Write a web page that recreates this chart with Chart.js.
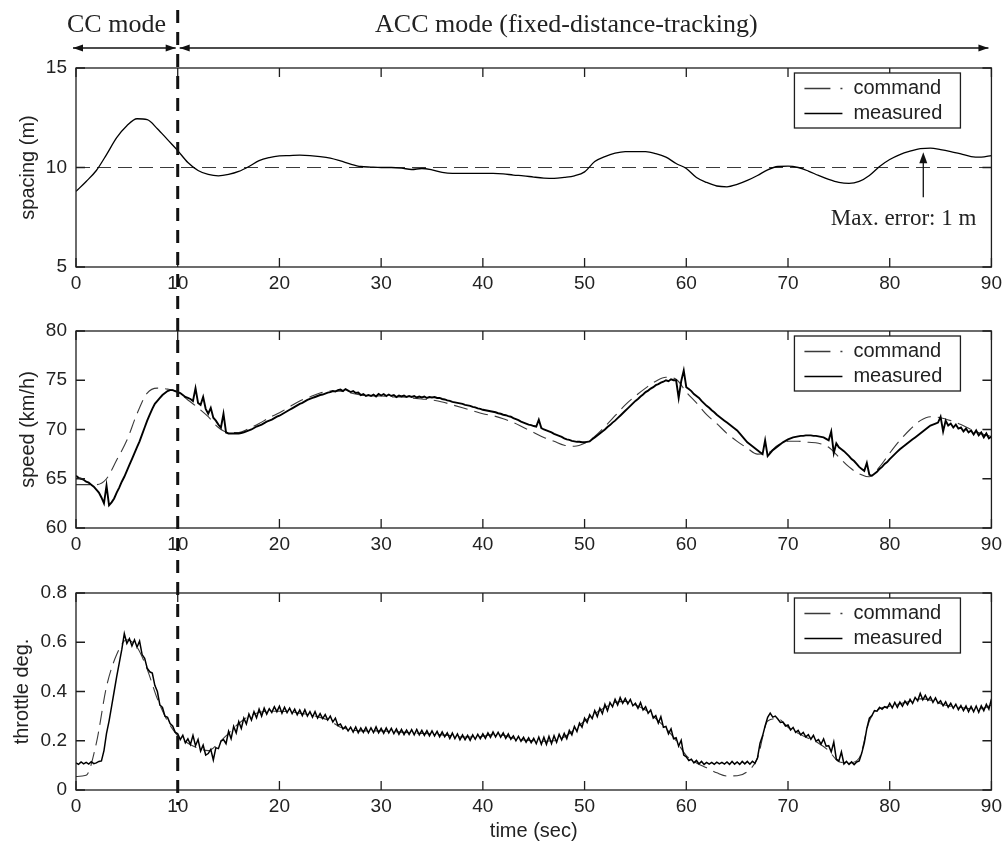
<!DOCTYPE html>
<html>
<head>
<meta charset="utf-8">
<script src="https://cdn.jsdelivr.net/npm/chart.js@4.4.1/dist/chart.umd.min.js"></script>
<style>
  html, body { margin: 0; padding: 0; background: #fff; }
  #wrap { position: relative; width: 1007px; height: 843px; overflow: hidden; background: #fff; }
  #wrap canvas { position: absolute; left: 0; }
</style>
</head>
<body>
<div id="wrap">
  <canvas id="cSpacing" width="1007" height="300" style="top:0px"></canvas>
  <canvas id="cSpeed" width="1007" height="260" style="top:300px"></canvas>
  <canvas id="cThrottle" width="1007" height="283" style="top:560px"></canvas>
</div>
<script>
// ---------------- data ----------------
const seriesNames = ['command', 'measured'];
const timeTicks = [0, 10, 20, 30, 40, 50, 60, 70, 80, 90];
const spacingTicks = [5, 10, 15];
const speedTicks = [60, 65, 70, 75, 80];
const throttleTicks = [0, 0.2, 0.4, 0.6, 0.8];

const modeSwitchTime = 10;              // CC -> ACC switch (s)
const ccLabel = 'CC mode';
const accLabel = 'ACC mode (fixed-distance-tracking)';
const maxErrorLabel = 'Max. error: 1 m';
const maxErrorTime = 83.3;              // where the arrow points (s)

// spacing (m): command is constant, measured sampled every 1 s
const spacingCommandTime = [0, 90];
const spacingCommand = [10, 10];
const spacingMeasured = [
  8.8, 9.3, 9.85, 10.65, 11.5, 12.1, 12.45, 12.4, 11.95, 11.4,
  10.85, 10.25, 9.85, 9.65, 9.58, 9.65, 9.8, 10.05, 10.35, 10.5,
  10.58, 10.6, 10.62, 10.6, 10.55, 10.47, 10.33, 10.17, 10.05, 10.02,
  10.0, 10.0, 9.97, 9.9, 9.95, 9.88, 9.75, 9.7, 9.7, 9.7,
  9.7, 9.7, 9.68, 9.62, 9.58, 9.52, 9.47, 9.45, 9.5, 9.58,
  9.78, 10.3, 10.55, 10.72, 10.8, 10.8, 10.8, 10.7, 10.52, 10.2,
  9.95, 9.5, 9.25, 9.07, 9.03, 9.15, 9.35, 9.6, 9.88, 10.05,
  10.07, 10.0, 9.82, 9.6, 9.4, 9.25, 9.2, 9.3, 9.6, 10.05,
  10.4, 10.65, 10.82, 10.95, 10.97, 10.9, 10.8, 10.68, 10.55, 10.52,
  10.6
];

// speed (km/h): command every 1 s, measured every 0.25 s
const speedCommand = [
  64.4, 64.4, 64.4, 65.0, 66.9, 68.9, 71.6, 73.7, 74.2, 74.1,
  73.8, 73.0, 72.2, 71.3, 70.2, 69.7, 69.7, 70.1, 70.6, 71.2,
  71.7, 72.3, 72.9, 73.3, 73.7, 73.9, 73.9, 73.7, 73.5, 73.4,
  73.4, 73.3, 73.3, 73.2, 73.1, 73.0, 72.8, 72.5, 72.2, 71.9,
  71.6, 71.4, 71.1, 70.7, 70.2, 69.7, 69.2, 68.8, 68.4, 68.3,
  68.6, 69.3, 70.3, 71.4, 72.5, 73.4, 74.2, 74.9, 75.3, 75.1,
  73.8, 72.7, 71.5, 70.6, 69.6, 68.8, 68.1, 67.5, 67.6, 68.4,
  68.8, 68.8, 68.7, 68.6, 68.2, 67.2, 66.2, 65.5, 65.2, 66.2,
  67.6, 68.9, 70.0, 70.9, 71.3, 71.2, 70.9, 70.5, 70.0, 69.6,
  69.3
];
const speedMeasured = [
  65.3, 65.1, 65.0, 64.9, 64.7, 64.6, 64.4, 64.2,
  63.9, 63.6, 63.1, 62.5, 64.3, 62.3, 62.6, 63.0,
  63.6, 64.1, 64.7, 65.2, 65.8, 66.4, 67.0, 67.6,
  68.2, 68.8, 69.5, 70.2, 70.9, 71.5, 72.1, 72.6,
  72.9, 73.2, 73.5, 73.7, 73.9, 74.0, 74.0, 73.9,
  73.8, 73.7, 73.5, 73.3, 73.2, 73.1, 72.9, 74.2,
  72.7, 72.5, 73.3, 72.1, 71.6, 72.2, 71.2, 70.9,
  70.5, 70.2, 71.6, 69.7, 69.6, 69.6, 69.6, 69.6,
  69.6, 69.65, 69.7, 69.8, 69.9, 70.0, 70.15, 70.3,
  70.4, 70.5, 70.65, 70.8, 70.9, 71.0, 71.15, 71.3,
  71.4, 71.55, 71.7, 71.85, 72.0, 72.15, 72.3, 72.45,
  72.6, 72.7, 72.85, 73.0, 73.1, 73.2, 73.3, 73.4,
  73.5, 73.55, 73.65, 73.75, 73.8, 73.9, 73.85, 74.0,
  74.05, 73.9, 74.1, 73.95, 73.8, 73.9, 73.7, 73.75,
  73.5, 73.6, 73.4, 73.5, 73.4, 73.55, 73.35, 73.6,
  73.45, 73.6, 73.4, 73.55, 73.4, 73.5, 73.3, 73.45,
  73.35, 73.45, 73.3, 73.4, 73.3, 73.4, 73.25, 73.35,
  73.25, 73.35, 73.2, 73.3, 73.25, 73.3, 73.2, 73.2,
  73.1, 73.05, 72.95, 72.9, 72.8, 72.75, 72.7, 72.65,
  72.6, 72.5, 72.45, 72.4, 72.3, 72.25, 72.15, 72.1,
  72.0, 71.95, 71.9, 71.85, 71.8, 71.75, 71.65, 71.6,
  71.5, 71.45, 71.35, 71.3, 71.15, 71.05, 70.95, 70.8,
  70.7, 70.6, 70.5, 70.45, 70.35, 70.3, 71.0, 70.15,
  70.0, 69.9, 69.8, 69.7, 69.55, 69.45, 69.35, 69.25,
  69.1, 69.0, 68.95, 68.85, 68.8, 68.75, 68.75, 68.7,
  68.7, 68.75, 68.8, 69.0, 69.2, 69.4, 69.6, 69.8,
  70.0, 70.25, 70.45, 70.7, 70.9, 71.15, 71.4, 71.65,
  71.9, 72.15, 72.4, 72.65, 72.9, 73.1, 73.35, 73.55,
  73.8, 73.95, 74.15, 74.3, 74.5, 74.6, 74.75, 74.85,
  75.0, 74.9, 75.1, 75.0, 75.0, 73.2, 74.9, 76.0,
  74.3, 74.1, 73.9, 73.6, 73.4, 73.2, 72.9, 72.65,
  72.4, 72.2, 71.95, 71.75, 71.5, 71.3, 71.1, 70.9,
  70.7, 70.5, 70.3, 70.1, 69.9, 69.6, 69.3, 69.0,
  68.7, 68.5, 68.3, 68.1, 67.9, 67.7, 67.5, 68.9,
  67.3, 67.6, 67.9, 68.1, 68.3, 68.5, 68.7, 68.85,
  69.0, 69.1, 69.2, 69.25, 69.3, 69.35, 69.35, 69.4,
  69.4, 69.4, 69.35, 69.35, 69.3, 69.25, 69.2, 69.05,
  68.9, 69.8, 67.6, 68.6, 68.2, 68.0, 67.8, 67.55,
  67.3, 67.0, 66.8, 66.5, 66.2, 66.0, 65.8, 66.6,
  65.4, 65.3, 65.5, 65.7, 66.0, 66.2, 66.5, 66.7,
  67.0, 67.25, 67.5, 67.75, 68.0, 68.2, 68.4, 68.6,
  68.8, 69.0, 69.2, 69.4, 69.6, 69.8, 70.0, 70.2,
  70.4, 70.5, 70.6, 70.7, 71.3, 69.8, 70.9, 70.4,
  70.6, 70.2, 70.5, 70.1, 70.2, 69.8, 70.1, 69.7,
  69.9, 69.5, 69.9, 69.4, 69.7, 69.2, 69.6, 69.1,
  69.3
];

// throttle: command every 1 s, measured every 0.25 s
const throttleCommand = [
  0.055, 0.06, 0.19, 0.42, 0.55, 0.61, 0.58, 0.49, 0.37, 0.28,
  0.22, 0.19, 0.17, 0.16, 0.19, 0.23, 0.27, 0.3, 0.315, 0.32,
  0.32, 0.318, 0.312, 0.305, 0.295, 0.28, 0.255, 0.245, 0.24, 0.24,
  0.24, 0.238, 0.235, 0.232, 0.23, 0.228, 0.224, 0.22, 0.215, 0.215,
  0.218, 0.225, 0.222, 0.21, 0.203, 0.2, 0.198, 0.2, 0.215, 0.245,
  0.28, 0.31, 0.335, 0.355, 0.36, 0.345, 0.325, 0.29, 0.25, 0.2,
  0.14, 0.11, 0.09, 0.07, 0.057, 0.058, 0.075, 0.13, 0.28, 0.29,
  0.255, 0.23, 0.21, 0.19, 0.16, 0.115, 0.11, 0.13, 0.28, 0.33,
  0.34, 0.35, 0.36, 0.37, 0.365, 0.35, 0.34, 0.335, 0.33, 0.33,
  0.345
];
const throttleMeasured = [
  0.110, 0.104, 0.114, 0.106, 0.112, 0.105, 0.115, 0.107,
  0.110, 0.116, 0.118, 0.160, 0.230, 0.280, 0.340, 0.400,
  0.460, 0.515, 0.570, 0.635, 0.595, 0.615, 0.585, 0.610,
  0.580, 0.605, 0.550, 0.535, 0.495, 0.480, 0.475, 0.425,
  0.400, 0.345, 0.335, 0.300, 0.295, 0.270, 0.260, 0.235,
  0.228, 0.205, 0.222, 0.192, 0.208, 0.185, 0.222, 0.180,
  0.205, 0.158, 0.182, 0.142, 0.148, 0.165, 0.122, 0.172,
  0.168, 0.198, 0.205, 0.188, 0.238, 0.208, 0.258, 0.232,
  0.278, 0.250, 0.292, 0.268, 0.308, 0.284, 0.318, 0.293,
  0.328, 0.300, 0.332, 0.308, 0.330, 0.315, 0.338, 0.318,
  0.340, 0.312, 0.336, 0.314, 0.332, 0.310, 0.328, 0.305,
  0.325, 0.302, 0.326, 0.300, 0.318, 0.296, 0.318, 0.292,
  0.310, 0.290, 0.306, 0.284, 0.300, 0.276, 0.292, 0.262,
  0.268, 0.248, 0.258, 0.240, 0.255, 0.235, 0.256, 0.232,
  0.252, 0.234, 0.254, 0.232, 0.252, 0.233, 0.256, 0.232,
  0.250, 0.230, 0.252, 0.232, 0.250, 0.229, 0.248, 0.226,
  0.246, 0.225, 0.244, 0.226, 0.245, 0.224, 0.246, 0.224,
  0.242, 0.222, 0.241, 0.220, 0.240, 0.220, 0.238, 0.216,
  0.236, 0.216, 0.232, 0.209, 0.231, 0.209, 0.228, 0.204,
  0.224, 0.204, 0.222, 0.202, 0.224, 0.206, 0.226, 0.208,
  0.228, 0.210, 0.232, 0.214, 0.236, 0.216, 0.234, 0.214,
  0.232, 0.210, 0.228, 0.206, 0.220, 0.200, 0.218, 0.198,
  0.214, 0.194, 0.212, 0.192, 0.210, 0.188, 0.215, 0.186,
  0.214, 0.185, 0.218, 0.188, 0.220, 0.194, 0.226, 0.204,
  0.230, 0.208, 0.242, 0.224, 0.258, 0.238, 0.272, 0.255,
  0.292, 0.274, 0.306, 0.290, 0.322, 0.298, 0.332, 0.310,
  0.348, 0.322, 0.355, 0.338, 0.368, 0.345, 0.375, 0.352,
  0.372, 0.350, 0.368, 0.342, 0.352, 0.332, 0.355, 0.325,
  0.338, 0.312, 0.325, 0.292, 0.302, 0.272, 0.298, 0.255,
  0.258, 0.228, 0.248, 0.208, 0.212, 0.178, 0.202, 0.142,
  0.135, 0.120, 0.125, 0.110, 0.120, 0.106, 0.116, 0.104,
  0.112, 0.105, 0.112, 0.104, 0.113, 0.106, 0.112, 0.105,
  0.114, 0.104, 0.116, 0.105, 0.114, 0.104, 0.116, 0.106,
  0.116, 0.105, 0.117, 0.108, 0.130, 0.190, 0.220, 0.260,
  0.295, 0.312, 0.296, 0.300, 0.288, 0.274, 0.276, 0.260,
  0.264, 0.244, 0.254, 0.234, 0.242, 0.224, 0.234, 0.216,
  0.225, 0.206, 0.222, 0.198, 0.205, 0.186, 0.207, 0.178,
  0.180, 0.155, 0.195, 0.125, 0.118, 0.155, 0.106, 0.116,
  0.104, 0.114, 0.103, 0.114, 0.118, 0.150, 0.190, 0.250,
  0.292, 0.302, 0.322, 0.320, 0.336, 0.328, 0.338, 0.333,
  0.352, 0.334, 0.356, 0.336, 0.357, 0.340, 0.361, 0.346,
  0.368, 0.352, 0.376, 0.362, 0.392, 0.366, 0.384, 0.364,
  0.378, 0.356, 0.374, 0.352, 0.362, 0.342, 0.358, 0.336,
  0.352, 0.332, 0.348, 0.326, 0.343, 0.322, 0.341, 0.318,
  0.339, 0.318, 0.341, 0.316, 0.342, 0.322, 0.348, 0.328,
  0.370
];

// ---------------- helpers ----------------
const sampleTimes = (n, step) => Array.from({ length: n }, (_, i) => +(i * step).toFixed(2));
const toPoints = (times, values) => values.map((v, i) => ({ x: times[i], y: v }));

const SANS = '"Liberation Sans", Arial, Helvetica, sans-serif';
const SERIF = '"Liberation Serif", "Times New Roman", serif';
const INK = '#1e1e1e';
const TICK_LEN = 9;

Chart.defaults.font.family = SANS;
Chart.defaults.color = '#222';

// frame round the plot area with inward tick marks on all four sides
const frameTicks = {
  id: 'frameTicks',
  afterDatasetsDraw(chart) {
    const { ctx, chartArea: a } = chart;
    const xs = chart.scales.x, ys = chart.scales.y;
    ctx.save();
    ctx.strokeStyle = INK;
    ctx.lineWidth = 1.3;
    ctx.beginPath();
    xs.ticks.forEach(t => {
      const p = xs.getPixelForValue(t.value);
      ctx.moveTo(p, a.bottom); ctx.lineTo(p, a.bottom - TICK_LEN);
      ctx.moveTo(p, a.top); ctx.lineTo(p, a.top + TICK_LEN);
    });
    ys.ticks.forEach(t => {
      const p = ys.getPixelForValue(t.value);
      ctx.moveTo(a.left, p); ctx.lineTo(a.left + TICK_LEN, p);
      ctx.moveTo(a.right, p); ctx.lineTo(a.right - TICK_LEN, p);
    });
    ctx.stroke();
    ctx.strokeRect(a.left, a.top, a.right - a.left, a.bottom - a.top);
    ctx.restore();
  }
};

// boxed legend in the upper-right corner of each panel
const boxLegend = {
  id: 'boxLegend',
  afterDatasetsDraw(chart) {
    const { ctx, chartArea: a } = chart;
    const left = a.right - 197, top = a.top + 5, w = 166, h = 55;
    ctx.save();
    ctx.fillStyle = '#fff';
    ctx.fillRect(left, top, w, h);
    ctx.strokeStyle = INK;
    ctx.lineWidth = 1.3;
    ctx.strokeRect(left, top, w, h);
    ctx.font = '20px ' + SANS;
    ctx.textBaseline = 'middle';
    chart.data.datasets.forEach((ds, i) => {
      const y = top + 15.5 + i * 25;
      ctx.strokeStyle = ds.borderColor;
      ctx.lineWidth = 1.3;
      ctx.setLineDash(ds.borderDash ? [26, 10] : []);
      ctx.beginPath();
      ctx.moveTo(left + 10, y);
      ctx.lineTo(left + 48, y);
      ctx.stroke();
      ctx.setLineDash([]);
      ctx.fillStyle = '#222';
      ctx.fillText(ds.label, left + 59, y);
    });
    ctx.restore();
  }
};

// thick dashed line marking the CC -> ACC switch; runs through all panels
const modeLine = {
  id: 'modeLine',
  afterDatasetsDraw(chart, args, o) {
    const { ctx } = chart;
    const x = chart.scales.x.getPixelForValue(modeSwitchTime);
    const y0 = Math.max(o.fromY - o.canvasTop, 0);
    const y1 = Math.min(o.toY - o.canvasTop, chart.height);
    if (y1 <= y0) return;
    ctx.save();
    ctx.strokeStyle = '#111';
    ctx.lineWidth = 3;
    ctx.setLineDash([13, 9]);
    ctx.lineDashOffset = (o.canvasTop + y0 - o.fromY) % 22;
    ctx.beginPath();
    ctx.moveTo(x, y0);
    ctx.lineTo(x, y1);
    ctx.stroke();
    ctx.restore();
  }
};

function arrowHead(ctx, x, y, dir) {
  ctx.beginPath();
  ctx.moveTo(x, y);
  ctx.lineTo(x - dir * 10, y - 3.5);
  ctx.lineTo(x - dir * 10, y + 3.5);
  ctx.closePath();
  ctx.fill();
}
function doubleArrow(ctx, xa, xb, y) {
  ctx.beginPath();
  ctx.moveTo(xa, y);
  ctx.lineTo(xb, y);
  ctx.stroke();
  arrowHead(ctx, xa, y, -1);
  arrowHead(ctx, xb, y, 1);
}

// mode arrows above the first panel and the max-error note inside it
const modeAnnotations = {
  id: 'modeAnnotations',
  afterDraw(chart) {
    const { ctx } = chart;
    const xs = chart.scales.x, ys = chart.scales.y;
    const x0 = xs.getPixelForValue(timeTicks[0]);
    const xm = xs.getPixelForValue(modeSwitchTime);
    const x1 = xs.getPixelForValue(timeTicks[timeTicks.length - 1]);
    const yA = 48;
    ctx.save();
    ctx.strokeStyle = '#111';
    ctx.fillStyle = '#111';
    ctx.lineWidth = 1.3;
    doubleArrow(ctx, x0 - 3, xm - 2, yA);
    doubleArrow(ctx, xm + 2, x1 - 3, yA);

    ctx.fillStyle = '#222';
    ctx.font = '26px ' + SERIF;
    ctx.textBaseline = 'alphabetic';
    ctx.fillText(ccLabel, x0 - 9, 32);
    ctx.fillText(accLabel, xs.getPixelForValue(29.4), 32);

    // arrow from the note up to the largest deviation
    const ax = xs.getPixelForValue(maxErrorTime);
    const yTip = ys.getPixelForValue(10.77);
    const yTail = ys.getPixelForValue(8.5);
    ctx.strokeStyle = '#111';
    ctx.fillStyle = '#111';
    ctx.beginPath();
    ctx.moveTo(ax, yTail);
    ctx.lineTo(ax, yTip + 8);
    ctx.stroke();
    ctx.beginPath();
    ctx.moveTo(ax, yTip);
    ctx.lineTo(ax - 4, yTip + 11);
    ctx.lineTo(ax + 4, yTip + 11);
    ctx.closePath();
    ctx.fill();

    ctx.fillStyle = '#222';
    ctx.font = '23px ' + SERIF;
    ctx.fillText(maxErrorLabel, xs.getPixelForValue(74.2), ys.getPixelForValue(7.1));
    ctx.restore();
  }
};

function makePanel(canvasId, p) {
  const axisFont = { size: 19, family: SANS };
  return new Chart(document.getElementById(canvasId), {
    type: 'line',
    data: {
      datasets: [
        {
          label: seriesNames[0], data: p.command, order: 1,
          borderColor: '#3a3a3a', borderWidth: 1.1, borderDash: [14, 7],
          pointRadius: 0, cubicInterpolationMode: 'monotone', fill: false
        },
        {
          label: seriesNames[1], data: p.measured, order: 0,
          borderColor: '#000', borderWidth: p.measuredWidth,
          pointRadius: 0, cubicInterpolationMode: p.smoothMeasured ? 'monotone' : 'default',
          tension: 0, fill: false
        }
      ]
    },
    options: {
      responsive: false,
      animation: false,
      devicePixelRatio: 1,
      events: [],
      layout: { padding: { top: p.padTop, right: 14, left: 0, bottom: 0 } },
      plugins: {
        legend: { display: false },
        tooltip: { enabled: false },
        modeLine: { fromY: 10, toY: 805, canvasTop: p.canvasTop }
      },
      scales: {
        x: {
          type: 'linear', min: 0, max: 90,
          afterBuildTicks: s => { s.ticks = timeTicks.map(v => ({ value: v })); },
          afterFit: s => { s.height = p.xHeight; },
          grid: { display: false, drawTicks: false },
          border: { display: false },
          ticks: { font: axisFont, color: '#222', padding: 5, maxRotation: 0, autoSkip: false },
          title: p.xTitle
            ? { display: true, text: p.xTitle, font: { size: 20, family: SANS }, color: '#222', padding: { top: 0, bottom: 0 } }
            : { display: false }
        },
        y: {
          type: 'linear', min: p.yTicks[0], max: p.yTicks[p.yTicks.length - 1],
          afterBuildTicks: s => { s.ticks = p.yTicks.map(v => ({ value: v })); },
          afterFit: s => { s.width = 76; },
          grid: { display: false, drawTicks: false },
          border: { display: false },
          ticks: { font: axisFont, color: '#222', padding: 9, autoSkip: false },
          title: { display: true, text: p.yTitle, font: { size: 20, family: SANS }, color: '#222', padding: { top: p.yTitlePad, bottom: 0 } }
        }
      }
    },
    plugins: [frameTicks, boxLegend, modeLine].concat(p.extra || [])
  });
}

const t1 = sampleTimes(91, 1);
const tq = sampleTimes(361, 0.25);

makePanel('cSpacing', {
  command: toPoints(spacingCommandTime, spacingCommand),
  measured: toPoints(t1, spacingMeasured),
  measuredWidth: 1.3, smoothMeasured: true,
  yTicks: spacingTicks, yTitle: 'spacing (m)', yTitlePad: 16,
  padTop: 68, xHeight: 33, canvasTop: 0,
  extra: [modeAnnotations]
});

makePanel('cSpeed', {
  command: toPoints(t1, speedCommand),
  measured: toPoints(tq, speedMeasured),
  measuredWidth: 1.9, smoothMeasured: false,
  yTicks: speedTicks, yTitle: 'speed (km/h)', yTitlePad: 16.5,
  padTop: 31, xHeight: 32, canvasTop: 300
});

makePanel('cThrottle', {
  command: toPoints(t1, throttleCommand),
  measured: toPoints(tq, throttleMeasured),
  measuredWidth: 1.5, smoothMeasured: false,
  yTicks: throttleTicks, yTitle: 'throttle deg.', yTitlePad: 10.5,
  padTop: 33, xHeight: 53, canvasTop: 560,
  xTitle: 'time (sec)'
});
</script>
</body>
</html>
